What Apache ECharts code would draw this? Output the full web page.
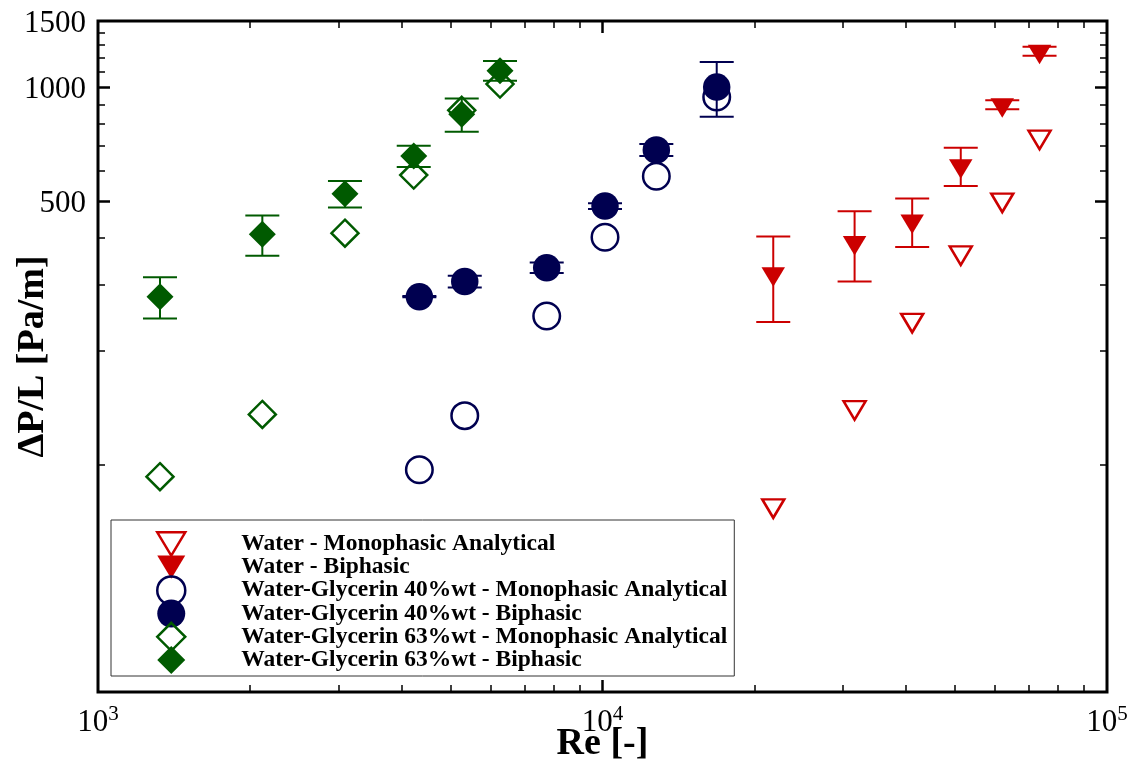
<!DOCTYPE html>
<html>
<head>
<meta charset="utf-8">
<title>Pressure drop vs Reynolds number</title>
<script src="https://cdn.jsdelivr.net/npm/echarts@6/dist/echarts.min.js"></script>
<style>
  html, body { margin: 0; padding: 0; background: #ffffff; }
  #chart { width: 1140px; height: 765px; }
</style>
</head>
<body>
<div id="chart"></div>
<script>
// ---- data -------------------------------------------------------------
const seriesNames = [
  'Water - Monophasic Analytical',
  'Water - Biphasic',
  'Water-Glycerin 40%wt - Monophasic Analytical',
  'Water-Glycerin 40%wt - Biphasic',
  'Water-Glycerin 63%wt - Monophasic Analytical',
  'Water-Glycerin 63%wt - Biphasic'
];

// Water
const waterRe      = [21800, 31600, 41100, 51300, 62000, 73500];
const waterMono    = [78, 142, 242, 365, 504, 740];
const waterBi      = [321, 388, 443, 620, 900, 1248];
const waterBiErr   = [82, 82, 65, 72, 25, 34];

// Water-Glycerin 40%wt
const g40Re        = [4335, 5333, 7752, 10115, 12785, 16842];
const g40Mono      = [97, 135, 248, 401, 582, 943];
const g40Bi        = [279, 306, 333, 485, 683, 1002];
const g40BiErr     = [1, 11, 10.5, 8.5, 25, 166];

// Water-Glycerin 63%wt
const g63Re        = [1327, 2117, 3087, 4225, 5260, 6264];
const g63Mono      = [93, 136, 411, 586, 870, 1021];
const g63Bi        = [279, 408, 523, 658, 849, 1108];
const g63BiErr     = [35, 50, 42, 43, 86, 67];

// Axis ranges and tick positions
const xRange       = [1000, 100000];
const yRange       = [25, 1500];
const xLabelTicks  = [1000, 10000, 100000];
const xMajorTicks  = [10000];
const xMinorTicks  = [2000, 3000, 4000, 5000, 6000, 7000, 8000, 9000,
                      20000, 30000, 40000, 50000, 60000, 70000, 80000, 90000];
const yLabelTicks  = [500, 1000, 1500];
const yMajorTicks  = [500, 1000];
const yMinorTicks  = [100, 200, 300, 400, 600, 700, 800, 900, 1100, 1200, 1300, 1400];

// ---- styling -----------------------------------------------------------
const FONT  = '"Liberation Serif", "Times New Roman", Times, serif';
const RED   = '#cc0000';
const NAVY  = '#000050';
const GREEN = '#005a00';
const TRI_DOWN = 'path://M0,0L24,0L12,20Z';
const L10 = Math.log10;

const chart = echarts.init(document.getElementById('chart'), null, { renderer: 'canvas' });

// Tick-only axes laid over the log axes (in log10 space) so that
// decade labels, major ticks and minor ticks can be drawn separately.
function xTickAxis(position, ticks, len, width, withLabels) {
  return {
    type: 'value', gridIndex: 0, position: position,
    min: L10(xRange[0]), max: L10(xRange[1]),
    axisLine: { show: false }, splitLine: { show: false },
    axisTick: { show: true, inside: true, length: len, customValues: ticks.map(L10),
                lineStyle: { color: '#000', width: width } },
    axisLabel: withLabels ? {
      show: true, margin: 12, customValues: xLabelTicks.map(L10),
      formatter: v => '{b|10}{s|' + Math.round(v) + '}',
      rich: {
        b: { fontFamily: FONT, fontSize: 31, color: '#000', lineHeight: 31, padding: [3, 0, 0, 0], verticalAlign: 'top' },
        s: { fontFamily: FONT, fontSize: 21, color: '#000', lineHeight: 21, verticalAlign: 'top' }
      }
    } : { show: false }
  };
}

function yTickAxis(position, ticks, len, width, withLabels) {
  return {
    type: 'value', gridIndex: 0, position: position,
    min: L10(yRange[0]), max: L10(yRange[1]),
    axisLine: { show: false }, splitLine: { show: false },
    axisTick: { show: true, inside: true, length: len, customValues: ticks.map(L10),
                lineStyle: { color: '#000', width: width } },
    axisLabel: withLabels ? {
      show: true, margin: 12, customValues: yLabelTicks.map(L10),
      formatter: v => '{n|' + Math.round(Math.pow(10, v)) + '}',
      rich: {
        n: { fontFamily: FONT, fontSize: 31, color: '#000', lineHeight: 31, padding: [5, 0, 0, 0] }
      }
    } : { show: false }
  };
}

function errorBars(re, val, err, color) {
  return {
    type: 'custom', name: 'err', xAxisIndex: 0, yAxisIndex: 0,
    data: re.map((r, i) => [r, val[i] - err[i], val[i] + err[i]]),
    encode: { x: 0, y: [1, 2] },
    silent: true,
    renderItem: function (params, api) {
      const x = api.value(0);
      const lo = api.coord([x, api.value(1)]);
      const hi = api.coord([x, api.value(2)]);
      const hw = 17;
      const style = { stroke: color, lineWidth: 2, fill: null, opacity: 1 };
      return {
        type: 'group',
        children: [
          { type: 'line', shape: { x1: hi[0], y1: hi[1], x2: lo[0], y2: lo[1] }, style: style },
          { type: 'line', shape: { x1: hi[0] - hw, y1: hi[1], x2: hi[0] + hw, y2: hi[1] }, style: style },
          { type: 'line', shape: { x1: lo[0] - hw, y1: lo[1], x2: lo[0] + hw, y2: lo[1] }, style: style }
        ]
      };
    }
  };
}

function pairs(xs, ys) { return xs.map((x, i) => [x, ys[i]]); }

const hollow = c => ({ color: 'rgba(0,0,0,0)', borderColor: c, borderWidth: 2.5, opacity: 1 });
const solid  = c => ({ color: c, borderWidth: 0, opacity: 1 });

const legendIcons  = [TRI_DOWN, TRI_DOWN, 'circle', 'circle', 'diamond', 'diamond'];
const legendStyles = [hollow(RED), solid(RED), hollow(NAVY), solid(NAVY), hollow(GREEN), solid(GREEN)];

const option = {
  animation: false,
  backgroundColor: '#ffffff',
  grid: {
    left: 98, right: 33, top: 21, bottom: 73,
    show: true, borderColor: '#000', borderWidth: 3, backgroundColor: 'rgba(0,0,0,0)',
    containLabel: false, outerBoundsMode: 'none'
  },
  legend: {
    data: seriesNames.map((n, i) => ({ name: n, icon: legendIcons[i], itemStyle: legendStyles[i] })),
    orient: 'vertical', left: 111, top: 520,
    padding: [8, 7, 0, 45],
    itemWidth: 28, itemHeight: 28, itemGap: -8.8,
    symbolKeepAspect: true,
    borderColor: '#333', borderWidth: 1, backgroundColor: '#ffffff',
    selectedMode: false,
    textStyle: { fontFamily: FONT, fontWeight: 'bold', fontSize: 23.5, lineHeight: 32,
                 color: '#000', padding: [0, 0, 0, 51] }
  },
  xAxis: [
    {
      type: 'log', logBase: 10, gridIndex: 0, position: 'bottom',
      min: xRange[0], max: xRange[1],
      axisLine: { show: false }, axisTick: { show: false }, axisLabel: { show: false },
      splitLine: { show: false }, minorTick: { show: false },
      name: 'Re [-]', nameLocation: 'middle', nameGap: 33, nameMoveOverlap: false,
      nameTextStyle: { fontFamily: FONT, fontWeight: 'bold', fontSize: 38, color: '#000' }
    },
    xTickAxis('bottom', xMajorTicks, 12, 2.5, true),
    xTickAxis('bottom', xMinorTicks, 7, 1.5, false),
    xTickAxis('top', xMajorTicks, 12, 2.5, false),
    xTickAxis('top', xMinorTicks, 7, 1.5, false)
  ],
  yAxis: [
    {
      type: 'log', logBase: 10, gridIndex: 0, position: 'left',
      min: yRange[0], max: yRange[1],
      axisLine: { show: false }, axisTick: { show: false }, axisLabel: { show: false },
      splitLine: { show: false }, minorTick: { show: false },
      name: '\u0394P/L [Pa/m]', nameLocation: 'middle', nameRotate: 90, nameGap: 46, nameMoveOverlap: false,
      nameTextStyle: { fontFamily: FONT, fontWeight: 'bold', fontSize: 38, color: '#000' }
    },
    yTickAxis('left', yMajorTicks, 12, 2.5, true),
    yTickAxis('left', yMinorTicks, 7, 1.5, false),
    yTickAxis('right', yMajorTicks, 12, 2.5, false),
    yTickAxis('right', yMinorTicks, 7, 1.5, false)
  ],
  series: [
    { type: 'scatter', name: seriesNames[0], data: pairs(waterRe, waterMono),
      symbol: TRI_DOWN, symbolSize: [22, 18.5], symbolOffset: [0, 3.1], itemStyle: hollow(RED) },
    { type: 'scatter', name: seriesNames[1], data: pairs(waterRe, waterBi),
      symbol: TRI_DOWN, symbolSize: [23.5, 19.5], symbolOffset: [0, 3.25], itemStyle: solid(RED) },
    { type: 'scatter', name: seriesNames[2], data: pairs(g40Re, g40Mono),
      symbol: 'circle', symbolSize: 26.5, itemStyle: hollow(NAVY) },
    { type: 'scatter', name: seriesNames[3], data: pairs(g40Re, g40Bi),
      symbol: 'circle', symbolSize: 27.5, itemStyle: solid(NAVY) },
    { type: 'scatter', name: seriesNames[4], data: pairs(g63Re, g63Mono),
      symbol: 'diamond', symbolSize: 27, itemStyle: hollow(GREEN) },
    { type: 'scatter', name: seriesNames[5], data: pairs(g63Re, g63Bi),
      symbol: 'diamond', symbolSize: 27, itemStyle: solid(GREEN) },
    errorBars(waterRe, waterBi, waterBiErr, RED),
    errorBars(g40Re, g40Bi, g40BiErr, NAVY),
    errorBars(g63Re, g63Bi, g63BiErr, GREEN)
  ]
};

chart.setOption(option);
</script>
</body>
</html>
